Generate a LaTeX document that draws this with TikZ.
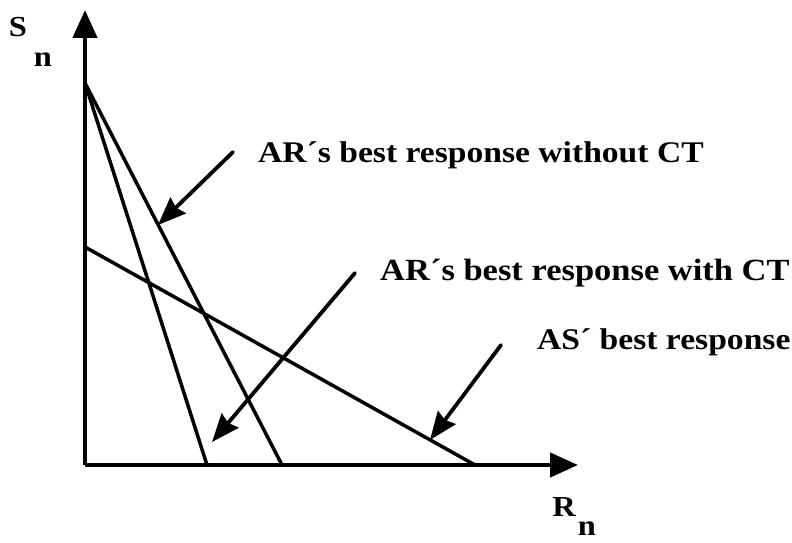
\documentclass[tikz,border=0pt]{standalone}
\usepackage{fontspec}
\setmainfont{Liberation Serif}
\newfontfamily\labfont[FakeStretch=1.12]{Liberation Serif}
\usetikzlibrary{arrows.meta}
\begin{document}
\begin{tikzpicture}[x=1pt,y=1pt,
  axis/.style={line width=4.5pt,-{Triangle[length=28pt,width=24pt]}},
  curve/.style={line width=3.5pt,line cap=round},
  pointer/.style={line width=3.8pt,line cap=round,-{Stealth[length=28pt,width=22pt,inset=3pt]}},
  lab/.style={font=\labfont\bfseries\fontsize{30}{32}\selectfont,anchor=west,inner sep=0pt},
  axlab/.style={font=\labfont\bfseries\fontsize{29}{30}\selectfont,inner sep=0pt}]
\useasboundingbox (0,0) rectangle (792,543);
\coordinate (O) at (85,78);
\coordinate (Ytip) at (85,533);
\coordinate (Xtip) at (578,78);
\coordinate (T) at (85,460);
\coordinate (A) at (207,78);
\coordinate (B) at (282,78);
\coordinate (C) at (85,296);
\coordinate (D) at (475,78);
\draw[axis] (O) -- (Ytip);
\draw[axis] (O) -- (Xtip);
\draw[curve] (T) -- (A);
\draw[curve] (T) -- (B);
\draw[curve] (C) -- (D);
\coordinate (a1s) at (233,391);
\coordinate (a1t) at (158,318);
\coordinate (a2s) at (355,270);
\coordinate (a2t) at (212,101);
\coordinate (a3s) at (501,198);
\coordinate (a3t) at (430,103);
\draw[pointer] (a1s) -- (a1t);
\draw[pointer] (a2s) -- (a2t);
\draw[pointer] (a3s) -- (a3t);
\node[lab] (t1) at (258,388) {AR´s best response without CT};
\node[lab,font=\labfont\bfseries\fontsize{30.8}{32}\selectfont] (t2) at (380,270) {AR´s best response with CT};
\node[lab] (t3) at (537,201) {AS´ best response};
\node[axlab] (S) at (18,516) {S};
\node[axlab] (Sn) at (43,483) {n};
\node[axlab] (R) at (564,36) {R};
\node[axlab,anchor=base] (Rn) at (587,7) {n};
\end{tikzpicture}
\end{document}
